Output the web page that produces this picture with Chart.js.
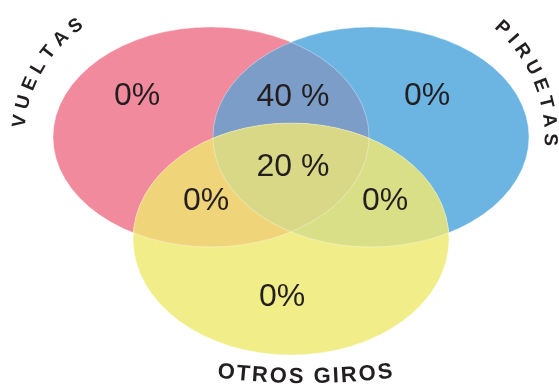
<!DOCTYPE html>
<html>
<head>
<meta charset="utf-8">
<script src="https://cdn.jsdelivr.net/npm/chart.js@4/dist/chart.umd.min.js"></script>
<style>
html, body { margin: 0; padding: 0; background: #fff; }
#venn-chart { display: block; }
</style>
</head>
<body>
<canvas id="venn-chart" width="559" height="390"></canvas>
<script>
///////////////////////Data//////////////////////////
const setNames = ['VUELTAS', 'PIRUETAS', 'OTROS GIROS'];
// regions: only V, only P, only O, V+P, V+O, P+O, all three
const regionKeys = ['V', 'P', 'O', 'VP', 'VO', 'PO', 'VPO'];
const regionValues = [0, 0, 0, 40, 0, 0, 20];

///////////////////////Layout//////////////////////////
// frame units = the 559x390 picture
const setEllipses = [
    { cx: 211, cy: 137, rx: 158, ry: 110 },
    { cx: 371, cy: 137, rx: 158, ry: 110 },
    { cx: 291, cy: 239, rx: 158, ry: 116 }
];
const setColors = ['#F28A9D', '#6CB5E3', '#F1EE8A'];
const overlapColors = { VP: '#7C9DC8', VO: '#EFD47A', PO: '#D8DF86', VPO: '#D9D887' };
const regionAnchors = {
    V: [137, 96], P: [427, 96], O: [282, 297],
    VP: [293, 97], VO: [206, 201], PO: [385, 201], VPO: [293, 167]
};
// curved set names: circle center, radius, middle angle (deg), letter gap, bottom?
const nameArcs = [
    { cx: 157, cy: 138, r: 138, mid: 210.5, gap: 6.2, size: 19, bottom: false },
    { cx: 400, cy: 138, r: 150, mid: -23.2, gap: 5.9, size: 19, bottom: false },
    { cx: 305, cy: -323, r: 700, mid: 90, gap: 2, size: 22, bottom: true }
];

document.addEventListener('DOMContentLoaded', () => {

const canvas = document.getElementById('venn-chart');
const FONT = '"Liberation Sans", Arial, Helvetica, sans-serif';

function pctText(v) {
    return v > 0 ? v + ' %' : v + '%';
}

//ellipse path through the chart scales
function ellipsePath(ctx, chart, e) {
    const xs = chart.scales.x, ys = chart.scales.y;
    const px = xs.getPixelForValue(e.cx), py = ys.getPixelForValue(e.cy);
    const prx = Math.abs(xs.getPixelForValue(e.cx + e.rx) - px);
    const pry = Math.abs(ys.getPixelForValue(e.cy + e.ry) - py);
    ctx.beginPath();
    ctx.ellipse(px, py, prx, pry, 0, 0, Math.PI * 2);
}

function arcText(ctx, chart, text, a) {
    const xs = chart.scales.x, ys = chart.scales.y;
    const cx = xs.getPixelForValue(a.cx), cy = ys.getPixelForValue(a.cy);
    const chars = [...text];
    const widths = chars.map(ch => ctx.measureText(ch).width);
    const total = widths.reduce((s, w) => s + w, 0) + a.gap * (chars.length - 1);
    const dir = a.bottom ? -1 : 1;
    const mid = a.mid * Math.PI / 180;
    let s = -total / 2;
    chars.forEach((ch, i) => {
        const c = s + widths[i] / 2;
        const ang = mid + dir * c / a.r;
        ctx.save();
        ctx.translate(cx + a.r * Math.cos(ang), cy + a.r * Math.sin(ang));
        ctx.rotate(a.bottom ? ang - Math.PI / 2 : ang + Math.PI / 2);
        ctx.fillText(ch, 0, 0);
        ctx.restore();
        s += widths[i] + a.gap;
    });
}

const vennPlugin = {
    id: 'venn',
    beforeDatasetsDraw(chart) {
        const ctx = chart.ctx;
        ctx.save();
        //base sets
        setEllipses.forEach((e, i) => {
            ellipsePath(ctx, chart, e);
            ctx.fillStyle = setColors[i];
            ctx.fill();
        });
        //overlaps
        const pairs = [['VP', 0, 1], ['VO', 0, 2], ['PO', 1, 2]];
        pairs.forEach(([k, a, b]) => {
            ctx.save();
            ellipsePath(ctx, chart, setEllipses[a]);
            ctx.clip();
            ellipsePath(ctx, chart, setEllipses[b]);
            ctx.fillStyle = overlapColors[k];
            ctx.fill();
            ctx.restore();
        });
        ctx.save();
        ellipsePath(ctx, chart, setEllipses[0]);
        ctx.clip();
        ellipsePath(ctx, chart, setEllipses[1]);
        ctx.clip();
        ellipsePath(ctx, chart, setEllipses[2]);
        ctx.fillStyle = overlapColors.VPO;
        ctx.fill();
        ctx.restore();
        //faint edges
        setEllipses.forEach(e => {
            ellipsePath(ctx, chart, e);
            ctx.strokeStyle = 'rgba(255,255,255,0.45)';
            ctx.lineWidth = 0.8;
            ctx.stroke();
        });
        ctx.restore();
    },
    afterDatasetsDraw(chart) {
        const ctx = chart.ctx;
        ctx.save();
        ctx.fillStyle = '#231F20';
        ctx.textAlign = 'center';
        ctx.textBaseline = 'middle';
        //region values
        const meta = chart.getDatasetMeta(1);
        ctx.font = '32px ' + FONT;
        meta.data.forEach((pt, i) => {
            ctx.fillText(pctText(regionValues[i]), pt.x, pt.y);
        });
        //set names
        setNames.forEach((name, i) => {
            ctx.font = 'bold ' + nameArcs[i].size + 'px ' + FONT;
            arcText(ctx, chart, name, nameArcs[i]);
        });
        ctx.restore();
    }
};

let vennChart = new Chart(canvas, {
    type: 'scatter',
    data: {
        datasets: [{
            label: 'sets',
            data: setEllipses.map(e => ({ x: e.cx, y: e.cy })),
            pointRadius: 0
        }, {
            label: 'regions',
            data: regionKeys.map(k => ({ x: regionAnchors[k][0], y: regionAnchors[k][1] })),
            pointRadius: 0
        }]
    },
    options: {
        responsive: false,
        animation: false,
        devicePixelRatio: 1,
        layout: { padding: 0 },
        scales: {
            x: { display: false, min: 0, max: 559 },
            y: { display: false, min: 0, max: 390, reverse: true }
        },
        plugins: {
            legend: { display: false },
            tooltip: { enabled: false }
        }
    },
    plugins: [vennPlugin]
});

});
</script>
</body>
</html>
